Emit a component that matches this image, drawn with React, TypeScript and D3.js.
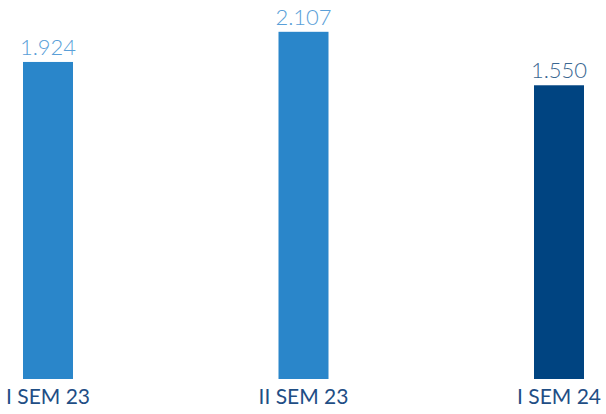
import React from "react";
import * as d3 from "d3";

const categories = ["I SEM 23", "II SEM 23", "I SEM 24"];
const values = [1924, 2107, 1550];
const valueLabels = ["1.924", "2.107", "1.550"];
const axisGroup = [0, 0, 1]; // 0 = primary axis, 1 = secondary axis

const W = 606;
const H = 414;
const barColors = ["#2A86CA", "#2A86CA", "#004481"];
const labelColors = ["#5A9FD8", "#5A9FD8", "#3A6791"];
const catColor = "#1F4E85";
const FONT = "Lato, 'Open Sans', sans-serif";

export default function App() {
  const baseY = 379;
  const x = d3.scalePoint<string>().domain(categories).range([48, 559]);
  const yPrimary = d3.scaleLinear().domain([0, 2300]).range([baseY, 0]);
  const ySecondary = d3.scaleLinear().domain([0, 2000]).range([baseY, 0]);
  const barW = 50;

  return (
    <svg
      width={W}
      height={H}
      style={{ position: "absolute", left: 0, top: 0, background: "#fff" }}
    >
      {categories.map((c, i) => {
        const y = axisGroup[i] === 0 ? yPrimary : ySecondary;
        const cx = x(c)!;
        const top = y(values[i]);
        return (
          <g key={c}>
            <rect x={cx - barW / 2} y={top} width={barW} height={baseY - top} fill={barColors[i]} />
            <text
              x={cx}
              y={top - 7}
              textAnchor="middle"
              fontFamily={FONT}
              fontWeight={300}
              fontSize={22}
              fill={labelColors[i]}
            >
              {valueLabels[i]}
            </text>
            <text
              x={cx}
              y={404}
              textAnchor="middle"
              fontFamily={FONT}
              fontWeight={400}
              fontSize={21}
              fill={catColor}
            >
              {c}
            </text>
          </g>
        );
      })}
    </svg>
  );
}
